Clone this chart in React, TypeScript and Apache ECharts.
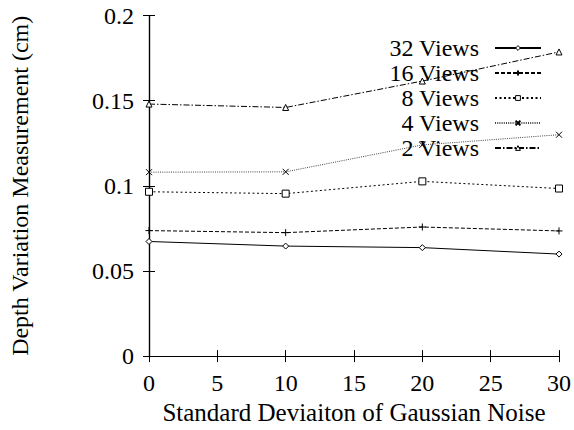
import React, { useEffect, useRef } from "react";
import * as echarts from "echarts";

const noiseLevels = [0, 10, 20, 30];
const views32 = [0.0673, 0.0646, 0.0637, 0.0599];
const views16 = [0.0737, 0.0725, 0.0758, 0.0735];
const views8 = [0.0965, 0.0954, 0.1026, 0.0984];
const views4 = [0.108, 0.1082, 0.124, 0.130];
const views2 = [0.148, 0.146, 0.1615, 0.1786];
const seriesNames = ["32 Views", "16 Views", "8 Views", "4 Views", "2 Views"];

const FONT = "'Liberation Serif', 'Times New Roman', serif";
const PLUS = "path://M5,0L5,10M0,5L10,5";
const CROSS = "path://M0,0L10,10M10,0L0,10";

export default function App() {
  const ref = useRef<HTMLDivElement>(null);
  useEffect(() => {
    if (!ref.current) return;
    const chart = echarts.init(ref.current, undefined, { renderer: "svg" });
    const pairs = (vals: number[]) => noiseLevels.map((x, i) => [x, vals[i]]);
    const mk = (
      name: string,
      vals: number[],
      symbol: string,
      size: number,
      type: any,
      color: string
    ) => ({
      name,
      type: "line",
      data: pairs(vals),
      symbol,
      symbolSize: size,
      showAllSymbol: true,
      lineStyle: { color, width: 1, type },
      itemStyle: { color: "#fff", borderColor: "#000", borderWidth: 1 },
      emphasis: { disabled: true },
      z: 5,
    });
    const mirrorAxisCommon = () => ({
      axisLine: { show: true, lineStyle: { color: "#000", width: 1.2 } },
      axisTick: { show: true, inside: true, length: 6, lineStyle: { color: "#000" } },
      axisLabel: { show: false },
      splitLine: { show: false },
    });
    const labelStyle = (size: number) => ({ fontFamily: FONT, fontSize: size, color: "#000" });
    const strokeOnly = new Set(["16 Views", "4 Views"]);
    chart.setOption({
      animation: false,
      backgroundColor: "#fff",
      textStyle: { fontFamily: FONT },
      grid: { left: 143.5, right: 12.5, top: 15.5, bottom: 67, containLabel: false },
      legend: {
        orient: "vertical",
        right: 27,
        top: 31,
        align: "right",
        itemWidth: 46,
        itemHeight: 6,
        itemGap: 1,
        z: 2,
        data: seriesNames.map((n) =>
          strokeOnly.has(n)
            ? n
            : { name: n, itemStyle: { color: "#fff", borderColor: "#000", borderWidth: 1 } }
        ),
        textStyle: {
          ...labelStyle(24),
          lineHeight: 24,
          padding: [0, 11, 0, 0],
        },
        inactiveColor: "#000",
        selectedMode: false,
      },
      xAxis: [
        {
          type: "value",
          min: 0,
          max: 30,
          interval: 5,
          name: "Standard Deviaiton of Gaussian Noise",
          nameLocation: "middle",
          nameGap: 37,
          nameTextStyle: labelStyle(25),
          axisLine: { show: true, lineStyle: { color: "#000", width: 1.2 } },
          axisTick: { show: true, inside: true, length: 6, lineStyle: { color: "#000" } },
          axisLabel: { ...labelStyle(24), margin: 15 },
          splitLine: { show: false },
        },
        {
          type: "value",
          position: "top",
          min: 0,
          max: 30,
          interval: 5,
          ...mirrorAxisCommon(),
        },
      ],
      yAxis: [
        {
          type: "value",
          min: 0,
          max: 0.2,
          interval: 0.05,
          name: "Depth Variation Measurement (cm)",
          nameLocation: "middle",
          nameGap: 117,
          nameTextStyle: labelStyle(24),
          axisLine: { show: true, lineStyle: { color: "#000", width: 1.2 } },
          axisTick: { show: true, inside: true, length: 6, lineStyle: { color: "#000" } },
          axisLabel: { ...labelStyle(24), margin: 15 },
          splitLine: { show: false },
        },
        {
          type: "value",
          position: "right",
          min: 0,
          max: 0.2,
          interval: 0.05,
          ...mirrorAxisCommon(),
        },
      ],
      series: [
        mk(seriesNames[0], views32, "diamond", 6, "solid", "#000"),
        mk(seriesNames[1], views16, PLUS, 7, [4, 2], "#000"),
        mk(seriesNames[2], views8, "rect", 7, [2, 2.5], "#000"),
        mk(seriesNames[3], views4, CROSS, 6, [1, 1.2], "#444"),
        mk(seriesNames[4], views2, "triangle", 6, [6, 2, 1.5, 2], "#000"),
      ],
    });
    return () => chart.dispose();
  }, []);
  return <div ref={ref} style={{ width: 574, height: 430, position: "absolute", left: 0, top: 0 }} />;
}
